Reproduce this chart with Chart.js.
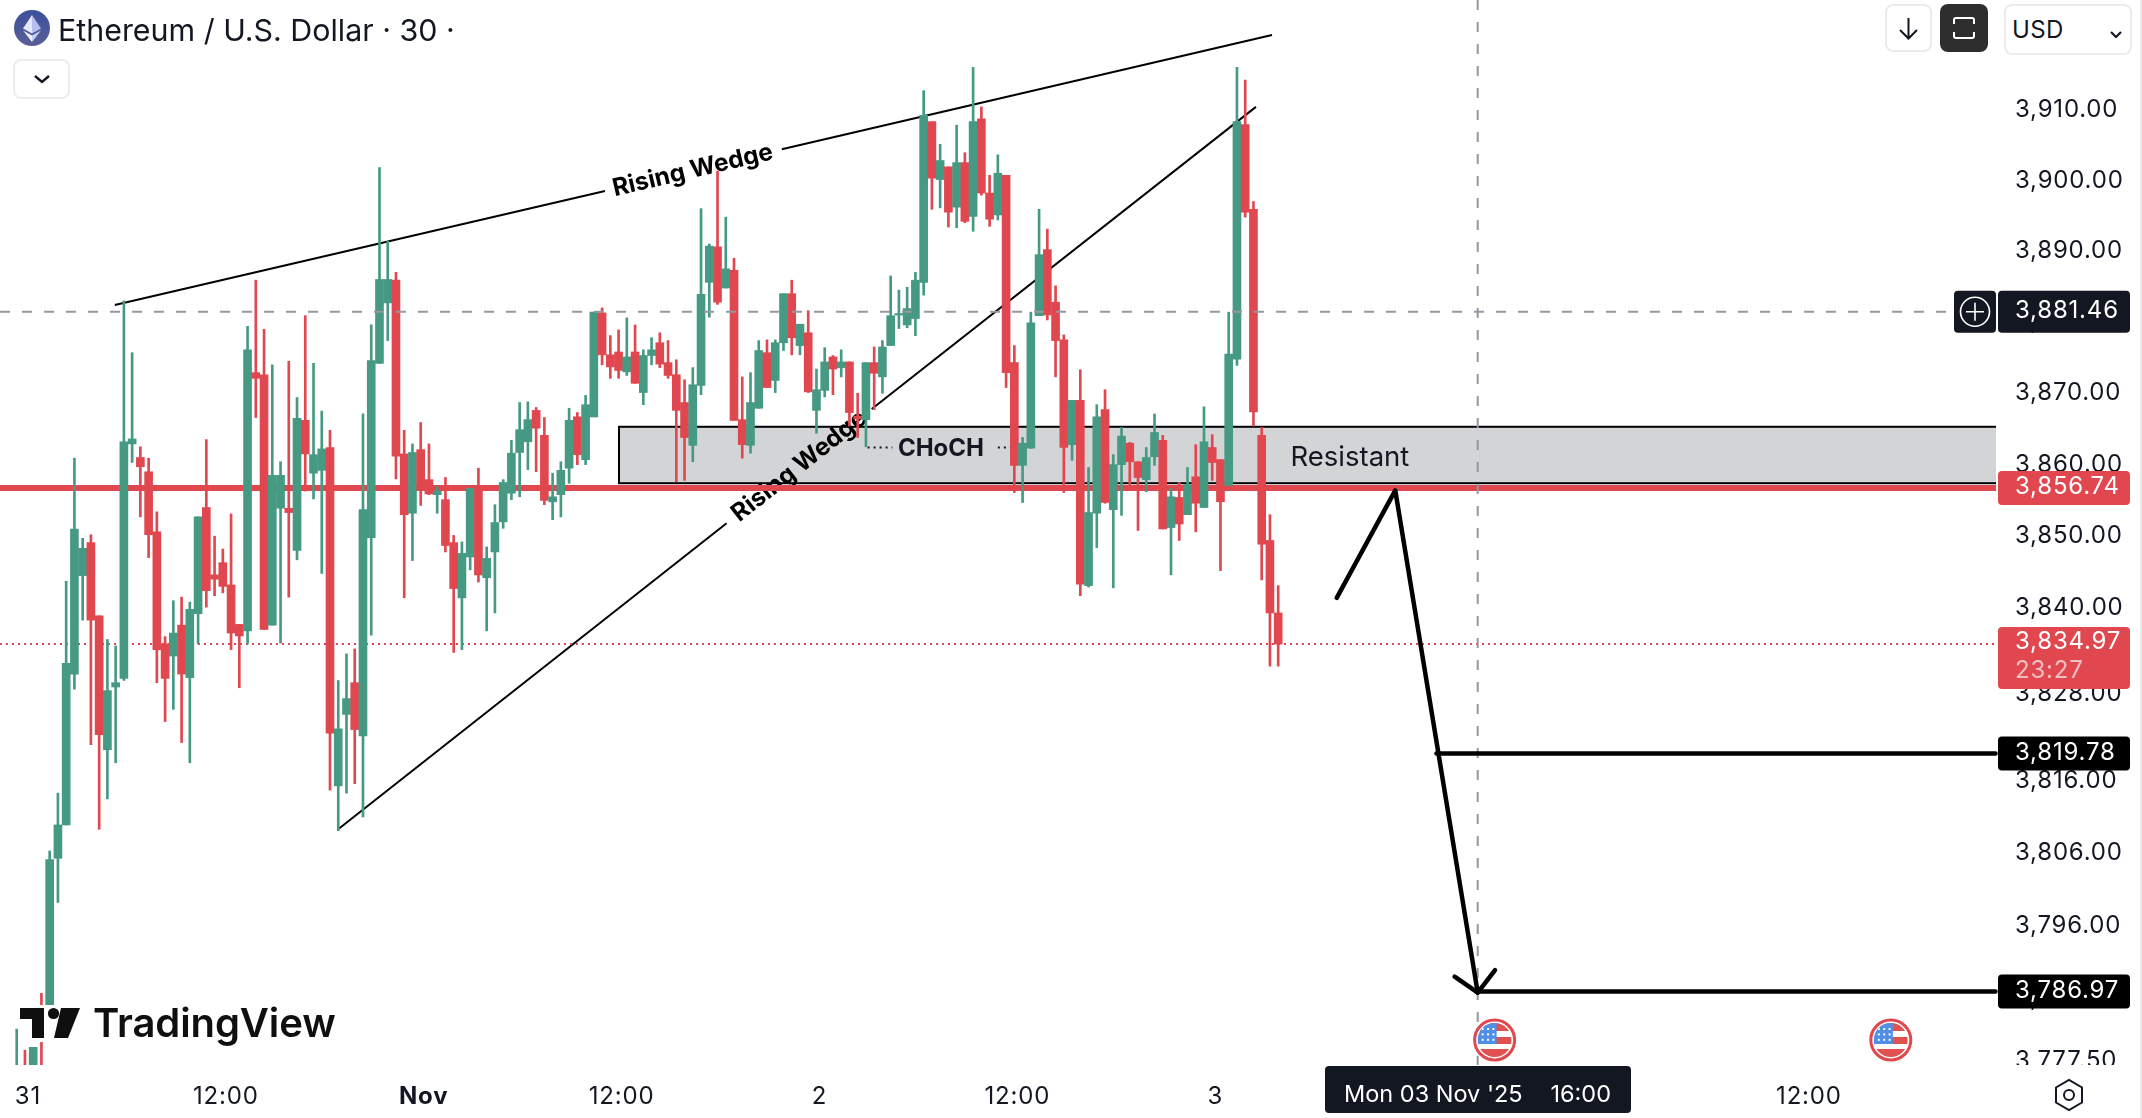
<!DOCTYPE html>
<html>
<head>
<meta charset="utf-8">
<title>ETHUSD 30</title>
<script src="https://cdn.jsdelivr.net/npm/chart.js@4"></script>
<style>
    html, body { margin: 0; padding: 0; background: #fff; }
    body { width: 2142px; height: 1118px; overflow: hidden; position: relative; font-family: Inter, sans-serif; color: #131722; }
    canvas { position: absolute; left: 0; top: 0; }
    .chrome { position: absolute; box-sizing: border-box; }
    .btn { border: 2px solid #ececec; border-radius: 8px; background: #fff; }
    .title { left: 58px; top: 9px; font-size: 30.4px; line-height: 42px; white-space: nowrap; }
    .usd { left: 2004px; top: 4px; width: 128px; height: 51px; }
    .usd span { position: absolute; left: 6px; top: 8px; font-size: 24px; line-height: 32px; letter-spacing: 0.4px; }
    .logo-text { left: 93px; top: 1001px; font-size: 40px; line-height: 44px; font-weight: 600; letter-spacing: -0.1px; color: #0f0f0f; white-space: nowrap; }
</style>
</head>
<body>
<canvas id="chart" width="2142" height="1118"></canvas>

<svg class="chrome" style="left:14px;top:10px" width="36" height="36" viewBox="0 0 36 36">
    <defs><linearGradient id="eth" x1="0" y1="0" x2="0" y2="1"><stop offset="0" stop-color="#3c4f9c"/><stop offset="1" stop-color="#5a5f96"/></linearGradient></defs>
    <circle cx="18" cy="18" r="18" fill="url(#eth)"/>
    <polygon points="18,5 9,18.5 18,23.5" fill="#e3e8fb"/>
    <polygon points="18,5 27,18.5 18,23.5" fill="#b4bff0"/>
    <polygon points="9,20.5 18,32 18,25.5" fill="#eef1fd"/>
    <polygon points="27,20.5 18,32 18,25.5" fill="#c6cff5"/>
</svg>
<div class="chrome title">Ethereum / U.S. Dollar · 30 ·</div>
<div class="chrome btn" style="left:13px;top:59px;width:57px;height:40px">
    <svg width="53" height="36" style="display:block"><polyline points="20,15 27,21 34,15" fill="none" stroke="#131722" stroke-width="2.4"/></svg>
</div>

<div class="chrome btn" style="left:1885px;top:4px;width:47px;height:48px">
    <svg width="43" height="44" style="display:block"><path d="M21.5 12V32M13 24L21.5 32.5L30 24" fill="none" stroke="#131722" stroke-width="2"/></svg>
</div>
<div class="chrome" style="left:1940px;top:4px;width:48px;height:48px;background:#2e2e2e;border-radius:8px">
    <svg width="48" height="48" style="display:block"><path d="M14 20V16Q14 14 16 14H32Q34 14 34 16V20M14 28V32Q14 34 16 34H32Q34 34 34 32V28" fill="none" stroke="#fff" stroke-width="2"/></svg>
</div>
<div class="chrome btn usd"><span>USD</span>
    <svg width="124" height="47" style="display:block"><polyline points="105,26 110,31 115,26" fill="none" stroke="#131722" stroke-width="2.2"/></svg>
</div>

<div class="chrome" style="left:19px;top:1005px;width:322px;height:37px;background:#fff"></div>
<svg class="chrome" style="left:19px;top:1007px" width="64" height="32" viewBox="0 0 64 32">
    <path d="M1 1H25V31H13V12H1Z" fill="#0f0f0f"/>
    <circle cx="34.5" cy="6.5" r="5.6" fill="#0f0f0f"/>
    <polygon points="42,1 61,1 49,31 35,31" fill="#0f0f0f"/>
</svg>
<div class="chrome logo-text">TradingView</div>

<div class="chrome" style="left:2140px;top:0;width:2px;height:1118px;background:#ececec"></div>

<script>
const priceTicks = [3910, 3900, 3890, 3880, 3870, 3860, 3850, 3840, 3828, 3816, 3806, 3796, 3786, 3777.5];
const timeTicks = [1, 25, 49, 73, 97, 121, 145, 169, 193, 217];
const timeLabels = ['31', '12:00', 'Nov', '12:00', '2', '12:00', '3', '12:00', '4', '12:00'];

const opens = [3771, 3772, 3771, 3772, 3784.6, 3805.3, 3809.9, 3830.8, 3844.5, 3849.1,
    3838.9, 3820.3, 3829.0, 3830.2, 3862.9, 3861.0, 3859.0, 3850.6, 3835.0, 3833.3,
    3837.6, 3830.3, 3839.2, 3854.0, 3844.6, 3846.3, 3843.2, 3837.7, 3836.8, 3872.9,
    3872.6, 3837.6, 3853.9, 3853.9, 3848.0, 3866.2, 3858.8, 3859.2, 3862.4, 3815.3,
    3825.2, 3829.6, 3822.2, 3849.8, 3874.2, 3882.7, 3885.9, 3861.5, 3853.2, 3862.1,
    3857.9, 3855.8, 3855.1, 3849.1, 3841.4, 3847.1, 3856.7, 3844.2, 3847.8, 3852.0,
    3856.0, 3861.7, 3863.2, 3867.6, 3864.1, 3854.8, 3855.8, 3859.5, 3866.7, 3860.7,
    3866.7, 3881.3, 3875.4, 3875.8, 3873.0, 3875.8, 3870.1, 3875.3, 3877.1, 3874.3,
    3872.6, 3868.7, 3862.7, 3871.1, 3885.6, 3890.6, 3884.8, 3887.3, 3866.3, 3862.7,
    3867.9, 3875.7, 3871.8, 3877.1, 3884.0, 3876.7, 3878.5, 3867.6, 3870.4, 3875.1,
    3873.6, 3874.4, 3866.8, 3866.3, 3874.3, 3872.3, 3876.7, 3881.0, 3879.6, 3880.5,
    3885.6, 3908.3, 3900.1, 3901.9, 3896.2, 3902.5, 3894.9, 3908.7, 3898.2, 3895.1,
    3900.7, 3874.3, 3859.9, 3862.3, 3880.9, 3890.2, 3882.8, 3877.5, 3862.8, 3869.0,
    3843.1, 3853.2, 3867.7, 3853.7, 3860.0, 3863.0, 3860.4, 3857.9, 3861.1, 3863.4,
    3851.2, 3855.4, 3853.0, 3858.3, 3854.0, 3862.4, 3860.7, 3857.1, 3874.8, 3907.9,
    3895.9, 3864.1, 3849.4, 3839.3];
const highs = [3781.8, 3778.9, 3779.3, 3786.7, 3806.3, 3814.3, 3843.7, 3860.9, 3849.7, 3850.2,
    3838.9, 3835.6, 3834.7, 3883.0, 3875.7, 3862.5, 3860.9, 3853.4, 3836.0, 3841.0,
    3841.5, 3840.8, 3852.7, 3863.5, 3850.0, 3848.2, 3853.1, 3837.7, 3879.4, 3885.9,
    3879.0, 3874.0, 3860.4, 3874.5, 3869.4, 3880.9, 3874.2, 3867.5, 3864.8, 3829.9,
    3833.6, 3834.3, 3867.1, 3879.6, 3901.8, 3891.4, 3887.0, 3864.8, 3862.9, 3865.9,
    3862.9, 3856.9, 3858.2, 3850.1, 3849.2, 3856.7, 3859.5, 3848.5, 3854.4, 3857.9,
    3863.4, 3868.7, 3868.8, 3868.0, 3866.6, 3858.8, 3860.4, 3867.9, 3867.3, 3869.7,
    3881.4, 3882.0, 3878.1, 3878.9, 3880.6, 3879.6, 3876.1, 3877.8, 3878.5, 3877.4,
    3874.7, 3871.9, 3873.6, 3896.0, 3891.0, 3901.3, 3894.8, 3889.0, 3872.3, 3872.9,
    3877.4, 3877.5, 3877.5, 3884.0, 3885.9, 3879.7, 3881.6, 3873.4, 3876.4, 3875.3,
    3876.1, 3874.4, 3870.0, 3874.3, 3876.5, 3877.4, 3886.5, 3884.5, 3884.9, 3887.0,
    3912.7, 3908.3, 3905.1, 3901.9, 3907.8, 3903.9, 3916.0, 3910.4, 3900.7, 3903.6,
    3900.7, 3876.7, 3863.8, 3881.4, 3895.9, 3893.1, 3885.1, 3878.2, 3869.0, 3873.3,
    3859.6, 3868.4, 3870.5, 3861.4, 3865.2, 3863.1, 3860.4, 3862.4, 3867.1, 3864.1,
    3856.7, 3857.5, 3859.6, 3862.8, 3868.1, 3864.2, 3860.7, 3881.4, 3916.0, 3914.2,
    3897.0, 3865.2, 3853.0, 3843.1];
const lows = [3770, 3770, 3770, 3770, 3784.3, 3799.2, 3809.9, 3828.7, 3838.3, 3821.0,
    3809.3, 3813.5, 3818.5, 3829.9, 3860.3, 3852.7, 3847.0, 3829.6, 3824.2, 3825.9,
    3821.3, 3818.5, 3835.0, 3840.1, 3841.7, 3842.1, 3834.2, 3828.9, 3835.0, 3866.6,
    3837.0, 3837.6, 3835.1, 3841.5, 3846.7, 3856.3, 3855.2, 3844.8, 3814.7, 3809.1,
    3814.3, 3815.6, 3811.0, 3836.2, 3874.2, 3877.4, 3858.0, 3841.4, 3846.6, 3854.3,
    3855.8, 3853.2, 3847.8, 3833.8, 3834.2, 3845.3, 3843.6, 3836.8, 3839.3, 3851.1,
    3855.1, 3855.5, 3859.3, 3859.0, 3854.4, 3852.3, 3852.7, 3857.4, 3860.0, 3860.0,
    3866.7, 3874.0, 3872.1, 3872.1, 3872.5, 3871.4, 3868.4, 3874.0, 3873.6, 3872.1,
    3857.6, 3857.8, 3860.4, 3869.8, 3880.7, 3882.5, 3884.8, 3866.2, 3860.9, 3861.6,
    3867.9, 3870.8, 3870.1, 3876.0, 3875.4, 3875.4, 3870.1, 3864.4, 3869.5, 3869.8,
    3872.3, 3865.4, 3863.8, 3862.5, 3867.7, 3870.0, 3876.7, 3879.1, 3879.2, 3878.1,
    3883.8, 3895.9, 3896.1, 3893.4, 3893.3, 3894.0, 3892.8, 3897.9, 3893.5, 3894.4,
    3870.8, 3856.1, 3854.7, 3862.3, 3880.9, 3880.3, 3872.3, 3856.1, 3860.6, 3841.7,
    3842.9, 3848.4, 3854.6, 3842.8, 3852.9, 3857.2, 3850.8, 3856.2, 3859.9, 3851.0,
    3844.6, 3849.4, 3853.0, 3850.6, 3854.0, 3857.8, 3845.2, 3857.1, 3873.9, 3894.8,
    3865.4, 3843.9, 3831.9, 3831.9];
const closes = [3772, 3771, 3779.3, 3771, 3805.1, 3809.9, 3832.3, 3851.0, 3848.3, 3838.3,
    3822.4, 3828.5, 3829.6, 3863.2, 3863.6, 3859.7, 3850.2, 3834.2, 3830.2, 3836.5,
    3830.8, 3839.8, 3852.7, 3842.4, 3844.0, 3843.0, 3836.5, 3836.1, 3876.1, 3872.1,
    3837.0, 3858.5, 3858.5, 3853.3, 3866.5, 3861.5, 3861.4, 3862.2, 3822.6, 3823.2,
    3827.4, 3823.1, 3853.7, 3874.6, 3886.0, 3886.0, 3861.2, 3853.0, 3861.7, 3856.5,
    3855.9, 3856.3, 3848.7, 3842.7, 3847.6, 3856.7, 3844.6, 3846.9, 3851.9, 3857.5,
    3861.6, 3864.9, 3866.3, 3865.1, 3855.0, 3855.5, 3859.2, 3866.2, 3861.4, 3868.4,
    3881.4, 3875.4, 3873.7, 3873.2, 3875.1, 3871.4, 3875.3, 3876.1, 3874.1, 3872.5,
    3867.6, 3863.8, 3871.2, 3883.9, 3890.7, 3882.8, 3887.5, 3866.2, 3862.8, 3868.7,
    3876.0, 3870.8, 3877.1, 3884.0, 3877.8, 3879.7, 3870.2, 3870.5, 3874.4, 3873.4,
    3874.4, 3867.3, 3866.4, 3874.3, 3872.8, 3876.5, 3880.9, 3881.2, 3881.9, 3885.9,
    3909.2, 3900.3, 3902.8, 3895.5, 3902.5, 3894.2, 3908.3, 3898.2, 3894.5, 3901.0,
    3872.9, 3859.9, 3863.0, 3879.9, 3889.5, 3881.0, 3877.4, 3862.4, 3869.0, 3843.3,
    3853.3, 3866.7, 3854.7, 3860.0, 3864.0, 3860.4, 3858.2, 3861.0, 3864.5, 3851.0,
    3855.5, 3851.7, 3857.2, 3854.6, 3863.2, 3860.3, 3854.8, 3875.5, 3908.3, 3895.5,
    3867.4, 3848.9, 3839.3, 3834.97];

// drawings, as [bar index, price]
const upperWedge = [[11.9, 3882.4], [71.35, 3898.5], [92.8, 3904.4], [152.25, 3920.6]];
const lowerWedge = [[39.1, 3809.4], [86.1, 3851.8], [103.7, 3867.8], [150.3, 3910.4]];
const upperLabelAt = [82.0, 3901.4];
const lowerLabelAt = [94.9, 3859.8];
const resistantBox = [[73.05, 3865.3], [240.06, 3857.4]];
const resistantLabelAt = [161.7, 3860.9];
const chochLevel = [[103.2, 3862.4], [106.2, 3862.4], [119, 3862.4], [121, 3862.4]];
const chochLabelAt = [112.1, 3862.2];
const pathArrow = [[160.1, 3841.4], [167.2, 3856.4], [177.2, 3786.8]];
const arrowHead = [[174.4, 3789.0], [177.2, 3786.8], [179.3, 3789.9]];
const target1 = [[172.2, 3819.78], [240, 3819.78]];
const target2 = [[177.2, 3786.97], [240, 3786.97]];
const crosshairBar = 177.2;
const flagBars = [179.25, 227.3];

const lastPrice = 3834.97;
const resistLevel = 3856.74;
const crossPrice = 3881.46;

const GREEN = '#469983';
const RED = '#e0474f';
const DARK = '#131722';
const FONT = 'Inter, sans-serif';

const isUp = closes.map((c, i) => c >= opens[i]);
const candleColors = isUp.map(up => up ? GREEN : RED);

const wickData = highs.map((h, i) => ({ x: i, y: [lows[i], h] }));
const bodyData = closes.map((c, i) => ({ x: i, y: [opens[i], c] }));

function money(v) {
    return v.toLocaleString('en-US', { minimumFractionDigits: 2, maximumFractionDigits: 2 });
}

function roundBox(ctx, x, y, w, h, r, fill) {
    ctx.fillStyle = fill;
    ctx.beginPath();
    ctx.roundRect(x, y, w, h, r);
    ctx.fill();
}

const drawings = {
    id: 'drawings',

    beforeDraw(chart) {
        chart.ctx.letterSpacing = '0.8px';
    },

    beforeDatasetsDraw(chart) {
        const { ctx, chartArea: area, scales: { x, y } } = chart;
        const px = p => [x.getPixelForValue(p[0]), y.getPixelForValue(p[1])];
        ctx.save();
        ctx.letterSpacing = '0px';
        ctx.beginPath();
        ctx.rect(area.left, area.top, area.width, area.height);
        ctx.clip();

        // resistance zone
        const [bx0, by0] = px(resistantBox[0]);
        const [bx1, by1] = px(resistantBox[1]);
        ctx.fillStyle = '#d3d4d6';
        ctx.fillRect(bx0, by0, bx1 - bx0 + 4, by1 - by0);
        ctx.strokeStyle = '#000';
        ctx.lineWidth = 2;
        ctx.strokeRect(bx0, by0, bx1 - bx0 + 4, by1 - by0);

        // wedge lines leave a gap for their labels
        ctx.strokeStyle = '#000';
        ctx.lineWidth = 2;
        [upperWedge, lowerWedge].forEach(line => {
            ctx.beginPath();
            ctx.moveTo(...px(line[0]));
            ctx.lineTo(...px(line[1]));
            ctx.moveTo(...px(line[2]));
            ctx.lineTo(...px(line[3]));
            ctx.stroke();
        });

        ctx.fillStyle = '#000';
        ctx.font = '700 24.5px ' + FONT;
        ctx.textAlign = 'center';
        ctx.textBaseline = 'middle';
        [[upperLabelAt, upperWedge], [lowerLabelAt, lowerWedge]].forEach(([at, line]) => {
            const a = px(line[0]);
            const b = px(line[3]);
            const [tx, ty] = px(at);
            ctx.save();
            ctx.translate(tx, ty);
            ctx.rotate(Math.atan2(b[1] - a[1], b[0] - a[0]));
            ctx.fillText('Rising Wedge', 0, 0);
            ctx.restore();
        });

        // CHoCH
        ctx.strokeStyle = DARK;
        ctx.lineWidth = 2;
        ctx.setLineDash([2, 4]);
        ctx.beginPath();
        ctx.moveTo(...px(chochLevel[0]));
        ctx.lineTo(...px(chochLevel[1]));
        ctx.moveTo(...px(chochLevel[2]));
        ctx.lineTo(...px(chochLevel[3]));
        ctx.stroke();
        ctx.setLineDash([]);
        ctx.fillStyle = DARK;
        ctx.font = '700 24px ' + FONT;
        const [cx, cy] = px(chochLabelAt);
        ctx.fillText('CHoCH', cx, cy);

        ctx.font = '400 27.5px ' + FONT;
        const [rx, ry] = px(resistantLabelAt);
        ctx.fillText('Resistant', rx, ry);

        // levels
        ctx.strokeStyle = RED;
        ctx.lineWidth = 6;
        ctx.beginPath();
        ctx.moveTo(area.left, y.getPixelForValue(resistLevel));
        ctx.lineTo(area.right, y.getPixelForValue(resistLevel));
        ctx.stroke();

        ctx.lineWidth = 2;
        ctx.setLineDash([2, 4]);
        ctx.beginPath();
        ctx.moveTo(area.left, y.getPixelForValue(lastPrice));
        ctx.lineTo(area.right, y.getPixelForValue(lastPrice));
        ctx.stroke();
        ctx.restore();
    },

    afterDatasetsDraw(chart) {
        const { ctx, chartArea: area, scales: { x, y } } = chart;
        const px = p => [x.getPixelForValue(p[0]), y.getPixelForValue(p[1])];

        // crosshair
        ctx.save();
        ctx.strokeStyle = '#9598a1';
        ctx.lineWidth = 2;
        ctx.setLineDash([10, 12]);
        ctx.beginPath();
        ctx.moveTo(area.left, y.getPixelForValue(crossPrice));
        ctx.lineTo(1954, y.getPixelForValue(crossPrice));
        ctx.moveTo(x.getPixelForValue(crosshairBar), area.top);
        ctx.lineTo(x.getPixelForValue(crosshairBar), area.bottom);
        ctx.stroke();
        ctx.setLineDash([]);

        // hand drawn path
        ctx.strokeStyle = '#000';
        ctx.lineWidth = 4.5;
        ctx.lineCap = 'round';
        ctx.lineJoin = 'round';
        [pathArrow, arrowHead, target1, target2].forEach(line => {
            ctx.beginPath();
            line.forEach((p, i) => i ? ctx.lineTo(...px(p)) : ctx.moveTo(...px(p)));
            ctx.stroke();
        });
        ctx.restore();

        flagBars.forEach(bar => drawFlag(ctx, x.getPixelForValue(bar), 1040));
    },

    afterDraw(chart) {
        const { ctx, chartArea: area, scales: { x, y } } = chart;
        ctx.save();

        // the last price axis row runs into the time axis strip
        ctx.fillStyle = '#fff';
        ctx.fillRect(area.right, 1065, 2140 - area.right, 53);

        ctx.textBaseline = 'middle';
        ctx.textAlign = 'left';
        ctx.font = '24px ' + FONT;

        // price tags
        const tagX = 1998;
        const tagW = 132;
        const textX = 2015;
        const tag = (value, text, fill, h) => {
            const c = y.getPixelForValue(value);
            roundBox(ctx, tagX, c - h / 2, tagW, h, 4, fill);
            ctx.fillStyle = '#fff';
            ctx.fillText(text, textX, c - 1);
        };

        const crossY = y.getPixelForValue(crossPrice);
        roundBox(ctx, 1954, crossY - 21, 42, 42, 4, DARK);
        ctx.strokeStyle = '#fff';
        ctx.lineWidth = 1.6;
        ctx.beginPath();
        ctx.arc(1975, crossY, 14.5, 0, Math.PI * 2);
        ctx.moveTo(1966, crossY);
        ctx.lineTo(1984, crossY);
        ctx.moveTo(1975, crossY - 9);
        ctx.lineTo(1975, crossY + 9);
        ctx.stroke();
        tag(crossPrice, money(crossPrice), DARK, 42);

        tag(resistLevel, money(resistLevel), RED, 34);

        const lastY = y.getPixelForValue(lastPrice);
        roundBox(ctx, tagX, lastY - 17, tagW, 62, 4, RED);
        ctx.fillStyle = '#fff';
        ctx.fillText(money(lastPrice), textX, lastY - 2);
        ctx.fillStyle = 'rgba(255,255,255,0.65)';
        ctx.fillText('23:27', textX, lastY + 27);

        tag(target1[0][1], '3,819.78', '#000', 34);
        tag(target2[0][1], '3,786.97', '#000', 34);

        // time axis cursor label
        roundBox(ctx, 1325, 1066, 306, 47, 4, DARK);
        ctx.fillStyle = '#fff';
        ctx.letterSpacing = '0px';
        ctx.font = '23.5px ' + FONT;
        ctx.textAlign = 'left';
        ctx.fillText("Mon 03 Nov '25", 1344, 1095);
        ctx.textAlign = 'right';
        ctx.fillText('16:00', 1611, 1095);

        // settings hexagon
        ctx.strokeStyle = DARK;
        ctx.lineWidth = 2;
        ctx.beginPath();
        for (let i = 0; i < 6; i++) {
            const a = Math.PI / 3 * i + Math.PI / 6;
            const hx = 2069 + 15 * Math.cos(a);
            const hy = 1095 + 15 * Math.sin(a);
            i ? ctx.lineTo(hx, hy) : ctx.moveTo(hx, hy);
        }
        ctx.closePath();
        ctx.moveTo(2074, 1095);
        ctx.arc(2069, 1095, 5, 0, Math.PI * 2);
        ctx.stroke();

        ctx.restore();
    }
};

function drawFlag(ctx, cx, cy) {
    ctx.save();
    ctx.beginPath();
    ctx.arc(cx, cy, 21, 0, Math.PI * 2);
    ctx.fillStyle = '#fff';
    ctx.fill();
    ctx.save();
    ctx.beginPath();
    ctx.arc(cx, cy, 17, 0, Math.PI * 2);
    ctx.clip();
    ctx.fillStyle = '#e0514f';
    ctx.fillRect(cx - 17, cy - 17, 34, 8);
    ctx.fillRect(cx - 17, cy - 3, 34, 7);
    ctx.fillRect(cx - 17, cy + 9, 34, 9);
    ctx.fillStyle = '#4f8fe8';
    ctx.fillRect(cx - 17, cy - 17, 19, 21);
    ctx.fillStyle = '#fff';
    for (let r = 0; r < 3; r++) {
        for (let c = 0; c < 3; c++) {
            ctx.fillRect(cx - 13 + c * 5.4, cy - 12 + r * 5.4, 2, 2);
        }
    }
    ctx.restore();
    ctx.strokeStyle = RED;
    ctx.lineWidth = 3;
    ctx.beginPath();
    ctx.arc(cx, cy, 20, 0, Math.PI * 2);
    ctx.stroke();
    ctx.restore();
}

function noPadding(scale) {
    scale.paddingTop = 0;
    scale.paddingBottom = 0;
    scale.paddingLeft = 0;
    scale.paddingRight = 0;
}

new Chart(document.getElementById('chart').getContext('2d'), {
    type: 'bar',
    data: {
        datasets: [
            { data: wickData, backgroundColor: candleColors, barThickness: 2, grouped: false },
            { data: bodyData, backgroundColor: candleColors, barThickness: 8, grouped: false }
        ]
    },
    plugins: [drawings],
    options: {
        responsive: false,
        animation: false,
        devicePixelRatio: 1,
        events: [],
        layout: { padding: 0 },
        plugins: {
            legend: { display: false },
            tooltip: { enabled: false }
        },
        scales: {
            x: {
                type: 'linear',
                position: 'bottom',
                offset: false,
                min: -2.025,
                max: 240.06,
                grid: { display: false, drawTicks: false },
                border: { display: false },
                afterBuildTicks(scale) {
                    scale.ticks = timeTicks.map(v => ({ value: v }));
                },
                afterFit(scale) {
                    scale.height = 53;
                    noPadding(scale);
                },
                ticks: {
                    autoSkip: false,
                    maxRotation: 0,
                    padding: 17,
                    labelOffset: 3,
                    color: DARK,
                    font: ctx => ({
                        family: FONT,
                        size: 24,
                        weight: timeLabels[ctx.index] === 'Nov' ? '700' : '400'
                    }),
                    callback: (value, i) => timeLabels[i]
                }
            },
            // the price axis of this chart is logarithmic
            y: {
                type: 'logarithmic',
                position: 'right',
                min: 3776.88,
                max: 3925.58,
                grid: { display: false, drawTicks: false },
                border: { display: false },
                afterBuildTicks(scale) {
                    scale.ticks = priceTicks.map(v => ({ value: v }));
                },
                afterFit(scale) {
                    scale.width = 146;
                    noPadding(scale);
                },
                ticks: {
                    autoSkip: false,
                    crossAlign: 'near',
                    padding: 19,
                    color: DARK,
                    font: { family: FONT, size: 24 },
                    callback: value => money(value)
                }
            }
        }
    }
});
</script>
</body>
</html>
